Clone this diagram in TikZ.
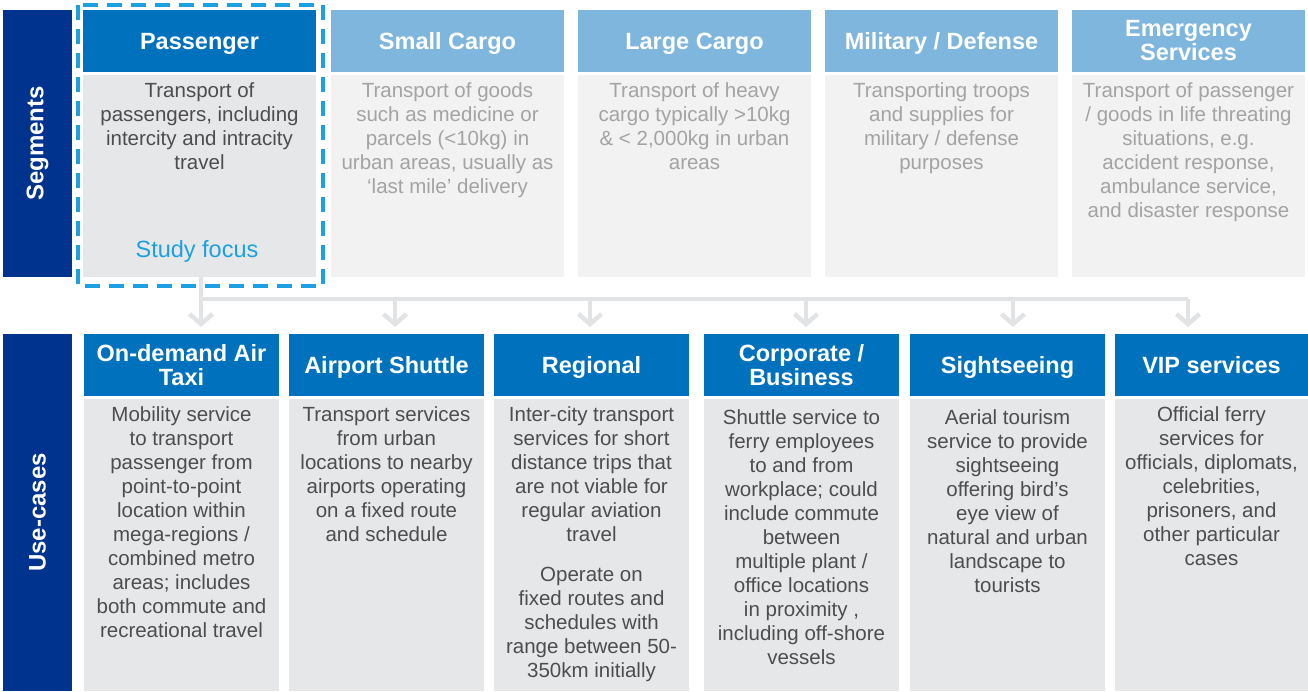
\documentclass[tikz,border=0pt]{standalone}
\usepackage{fontspec}
\setmainfont{Liberation Sans}
\usetikzlibrary{arrows.meta,calc}
\definecolor{navy}{HTML}{00338D}
\definecolor{midblue}{HTML}{0071BC}
\definecolor{lightblue}{HTML}{7FB6DD}
\definecolor{bodygray}{HTML}{E6E7E8}
\definecolor{palegray}{HTML}{F2F2F2}
\definecolor{txtdark}{HTML}{4D4D4F}
\definecolor{txtlight}{HTML}{A3A3A3}
\definecolor{focus}{HTML}{1BA1E2}
\definecolor{conncol}{HTML}{E2E3E5}
\begin{document}
\begin{tikzpicture}[x=1pt,y=-1pt,
  box/.style={inner sep=0pt, outer sep=0pt, anchor=north west},
  sidebar/.style={box, fill=navy, minimum width=69pt},
  sidetxt/.style={text=white, font=\fontsize{24}{26}\selectfont\bfseries, rotate=90},
  hdr/.style={box, minimum height=62pt, text=white, align=center, font=\fontsize{23.5}{24}\selectfont\bfseries},
  oneline/.style={text height=17pt, text depth=0pt},
  seghdr/.style={hdr, fill=lightblue, minimum width=233pt},
  usehdr/.style={hdr, fill=midblue, minimum width=195pt},
  segbody/.style={box, fill=palegray, minimum width=233pt, minimum height=202pt},
  usebody/.style={box, fill=bodygray, minimum width=195pt, minimum height=292pt},
  btxt/.style={inner sep=0pt, anchor=north, align=center, font=\fontsize{20.5}{24}\selectfont},
  segtxt/.style={btxt, text=txtlight},
  usetxt/.style={btxt, text=txtdark},
  bus/.style={draw=conncol, line width=4.5pt},
  arr/.style={draw=conncol, line width=4.5pt, -{Straight Barb[length=10pt,width=23pt]}},
  focusbox/.style={draw=focus, line width=4pt, dash pattern=on 15pt off 9pt}
]
\useasboundingbox (0,0) rectangle (1308,691);

% side bars
\node[sidebar, minimum height=267pt] (segbar) at (3,10) {};
\node[sidetxt] (seglbl) at (segbar.center) {Segments};
\node[sidebar, minimum height=357pt] (usebar) at (3,334) {};
\node[sidetxt] (uselbl) at (usebar.center) {Use-cases};

% segments
\node[seghdr, oneline, fill=midblue] (sh1) at (83,10) {Passenger};
\node[segbody, fill=bodygray] (sb1) at (83,75) {};
\node[usetxt] (st1) at ($(sb1.north)+(0,7)$) {Transport of\\passengers, including\\intercity and intracity\\travel};
\node[inner sep=0pt, text=focus, font=\fontsize{23.5}{24}\selectfont] (sf) at (197,251) {Study focus};

\node[seghdr, oneline] (sh2) at (331,10) {Small Cargo};
\node[segbody] (sb2) at (331,75) {};
\node[segtxt] (st2) at ($(sb2.north)+(0,7)$) {Transport of goods\\such as medicine or\\parcels (<10kg) in\\urban areas, usually as\\‘last mile’ delivery};

\node[seghdr, oneline] (sh3) at (578,10) {Large Cargo};
\node[segbody] (sb3) at (578,75) {};
\node[segtxt] (st3) at ($(sb3.north)+(0,7)$) {Transport of heavy\\cargo typically >10kg\\\& < 2,000kg in urban\\areas};

\node[seghdr, oneline] (sh4) at (825,10) {Military / Defense};
\node[segbody] (sb4) at (825,75) {};
\node[segtxt] (st4) at ($(sb4.north)+(0,7)$) {Transporting troops\\and supplies for\\military / defense\\purposes};

\node[seghdr] (sh5) at (1072,10) {Emergency\\Services};
\node[segbody] (sb5) at (1072,75) {};
\node[segtxt] (st5) at ($(sb5.north)+(0,7)$) {Transport of passenger\\/ goods in life threating\\situations, e.g.\\accident response,\\ambulance service,\\and disaster response};

% use-cases
\node[usehdr] (uh1) at (84,334) {On-demand Air\\Taxi};
\node[usebody] (ub1) at (84,399) {};
\node[usetxt] (ut1) at ($(ub1.north)+(0,7)$) {Mobility service\\to transport\\passenger from\\point-to-point\\location within\\mega-regions /\\combined metro\\areas; includes\\both commute and\\recreational travel};

\node[usehdr, oneline] (uh2) at (289,334) {Airport Shuttle};
\node[usebody] (ub2) at (289,399) {};
\node[usetxt] (ut2) at ($(ub2.north)+(0,7)$) {Transport services\\from urban\\locations to nearby\\airports operating\\on a fixed route\\and schedule};

\node[usehdr, oneline] (uh3) at (494,334) {Regional};
\node[usebody] (ub3) at (494,399) {};
\node[usetxt] (ut3) at ($(ub3.north)+(0,7)$) {Inter-city transport\\services for short\\distance trips that\\are not viable for\\regular aviation\\travel\\[16pt]Operate on\\fixed routes and\\schedules with\\range between 50-\\350km initially};

\node[usehdr] (uh4) at (704,334) {Corporate /\\Business};
\node[usebody] (ub4) at (704,399) {};
\node[usetxt] (ut4) at ($(ub4.north)+(0,10)$) {Shuttle service to\\ferry employees\\to and from\\workplace; could\\include commute\\between\\multiple plant /\\office locations\\in proximity ,\\including off-shore\\vessels};

\node[usehdr, oneline] (uh5) at (910,334) {Sightseeing};
\node[usebody] (ub5) at (910,399) {};
\node[usetxt] (ut5) at ($(ub5.north)+(0,10)$) {Aerial tourism\\service to provide\\sightseeing\\offering bird’s\\eye view of\\natural and urban\\landscape to\\tourists};

\node[usehdr, oneline, minimum width=193pt] (uh6) at (1115,334) {VIP services};
\node[usebody, minimum width=193pt] (ub6) at (1115,399) {};
\node[usetxt] (ut6) at ($(ub6.north)+(0,7)$) {Official ferry\\services for\\officials, diplomats,\\celebrities,\\prisoners, and\\other particular\\cases};

% connectors
\coordinate (b1) at (201,299);
\coordinate (b2) at (395,299);
\coordinate (b3) at (590,299);
\coordinate (b4) at (806,299);
\coordinate (b5) at (1013,299);
\coordinate (b6) at (1188,299);
\draw[bus] (sb1.south -| b1) -- (b1) -- (b6);
\foreach \i in {1,...,6} {
  \draw[arr] (b\i) -- ($(b\i |- uh1.north)+(0,-7)$);
}

% study focus border
\draw[focusbox] (78,4.5) rectangle (322.5,286);
\end{tikzpicture}
\end{document}
